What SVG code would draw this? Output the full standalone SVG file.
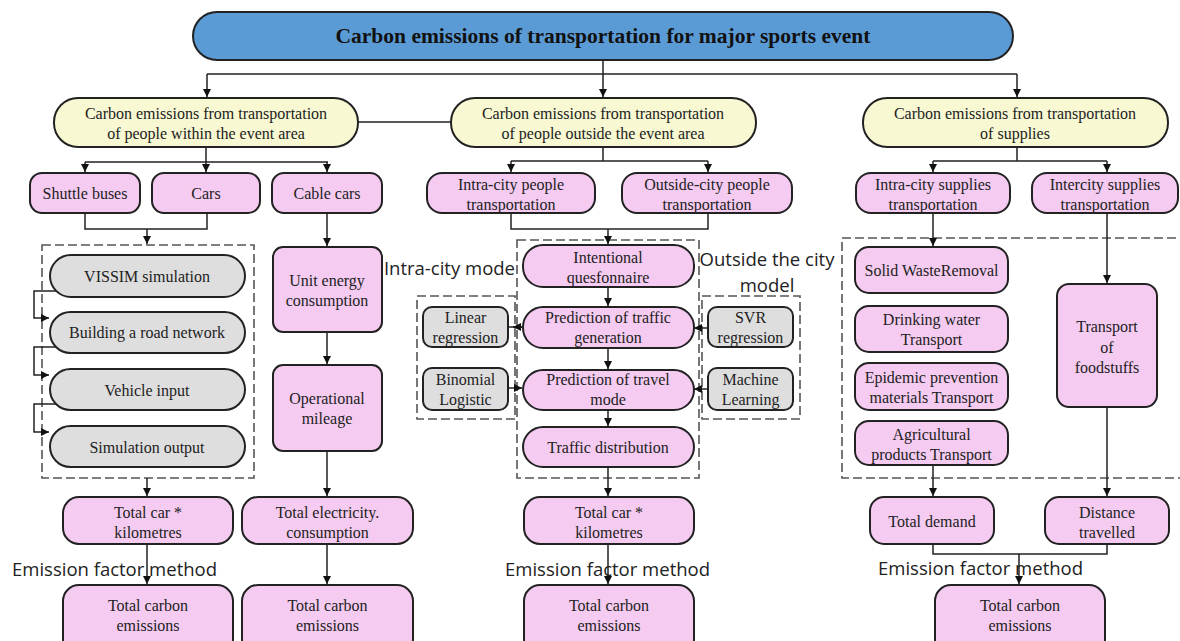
<svg xmlns="http://www.w3.org/2000/svg" width="1180" height="641" viewBox="0 0 1180 641">
<style>
.n{stroke:#222;stroke-width:2}
.b{fill:#5B9BD5}
.y{fill:#F8F8D2}
.p{fill:#F5CBF1}
.g{fill:#DEDEDE}
.d{fill:none;stroke:#555;stroke-width:1.6;stroke-dasharray:9 4}
.t{font-family:"Liberation Serif","Times New Roman",serif;font-size:16px;fill:#222;text-anchor:middle;dominant-baseline:central}
.tb{font-family:"Liberation Serif","Times New Roman",serif;font-size:21.5px;font-weight:bold;fill:#111;text-anchor:middle;dominant-baseline:central}
.s{font-family:"Open Sans","Noto Sans",sans-serif;font-size:18.5px;fill:#222;dominant-baseline:central}
.c{fill:none;stroke:#222;stroke-width:1.5}
</style>
<defs>
<marker id="a" viewBox="0 0 10 10" refX="10" refY="5" markerWidth="8" markerHeight="8" markerUnits="userSpaceOnUse" orient="auto"><path d="M0,0 L10,5 L0,10 z" fill="#111"/></marker>
</defs>
<rect width="1180" height="641" fill="#fff"/>

<g id="containers">
<rect class="d" x="42" y="245" width="212" height="233"/>
<rect class="d" x="517" y="240" width="182" height="238"/>
<rect class="d" x="417" y="296" width="98" height="123"/>
<rect class="d" x="702" y="296" width="98" height="123"/>
<rect class="d" x="842" y="238" width="345" height="240"/>
</g>

<g id="connectors">
<path class="c" d="M207,74 H1017"/>
<path class="c" d="M603,60 V97" marker-end="url(#a)"/>
<path class="c" d="M207,74 V97" marker-end="url(#a)"/>
<path class="c" d="M1017,74 V97" marker-end="url(#a)"/>
<path class="c" d="M358,122 H451"/>
<path class="c" d="M206,147 V162 M85,162 H328"/>
<path class="c" d="M85,162 V172" marker-end="url(#a)"/>
<path class="c" d="M206,162 V172" marker-end="url(#a)"/>
<path class="c" d="M327,162 V172" marker-end="url(#a)"/>
<path class="c" d="M603,147 V161 M511,161 H708"/>
<path class="c" d="M511,161 V172" marker-end="url(#a)"/>
<path class="c" d="M708,161 V172" marker-end="url(#a)"/>
<path class="c" d="M1017,146 V161 M933,161 H1107"/>
<path class="c" d="M933,161 V172" marker-end="url(#a)"/>
<path class="c" d="M1107,161 V172" marker-end="url(#a)"/>
<path class="c" d="M85,213 V229 H207 V213"/>
<path class="c" d="M147,229 V244" marker-end="url(#a)"/>
<path class="c" d="M327,213 V246" marker-end="url(#a)"/>
<path class="c" d="M327,332 V364" marker-end="url(#a)"/>
<path class="c" d="M327,451 V496" marker-end="url(#a)"/>
<path class="c" d="M57,291 H34 V318 H49" marker-end="url(#a)"/>
<path class="c" d="M57,347 H34 V375 H49" marker-end="url(#a)"/>
<path class="c" d="M57,404 H34 V432 H49" marker-end="url(#a)"/>
<path class="c" d="M147,478 V496" marker-end="url(#a)"/>
<path class="c" d="M147,544 V584" marker-end="url(#a)"/>
<path class="c" d="M327,544 V584" marker-end="url(#a)"/>
<path class="c" d="M511,213 V229 H708 V213"/>
<path class="c" d="M608,229 V244" marker-end="url(#a)"/>
<path class="c" d="M608,287 V306" marker-end="url(#a)"/>
<path class="c" d="M608,348 V369" marker-end="url(#a)"/>
<path class="c" d="M608,410 V426" marker-end="url(#a)"/>
<path class="c" d="M608,467 V496" marker-end="url(#a)"/>
<path class="c" d="M608,544 V584" marker-end="url(#a)"/>
<path class="c" d="M523,327 H509"/>
<path class="c" d="M523,327 H513" marker-end="url(#a)"/>
<path class="c" d="M508,388 H522" marker-end="url(#a)"/>
<path class="c" d="M708,328 H694" marker-end="url(#a)"/>
<path class="c" d="M708,389 H694" marker-end="url(#a)"/>
<path class="c" d="M933,213 V246" marker-end="url(#a)"/>
<path class="c" d="M1107,213 V283" marker-end="url(#a)"/>
<path class="c" d="M933,465 V496" marker-end="url(#a)"/>
<path class="c" d="M1107,407 V496" marker-end="url(#a)"/>
<path class="c" d="M933,544 V554 H1107 V544"/>
<path class="c" d="M1019,554 V584" marker-end="url(#a)"/>
</g>

<g id="top"><rect class="n b" x="193" y="12" width="820" height="48" rx="24"/><text class="tb" x="603" y="36">Carbon emissions of transportation for major sports event</text></g>

<g id="y1"><rect class="n y" x="54" y="98" width="304" height="49" rx="24"/><text class="t" x="206" y="113">Carbon emissions from transportation</text><text class="t" x="206" y="133">of people within the event area</text></g>
<g id="y2"><rect class="n y" x="451" y="98" width="305" height="49" rx="24"/><text class="t" x="603" y="113">Carbon emissions from transportation</text><text class="t" x="603" y="133">of people outside the event area</text></g>
<g id="y3"><rect class="n y" x="863" y="98" width="305" height="49" rx="24"/><text class="t" x="1015" y="113">Carbon emissions from transportation</text><text class="t" x="1015" y="133">of supplies</text></g>

<g id="shuttle"><rect class="n p" x="30" y="173" width="110" height="40" rx="12"/><text class="t" x="85" y="193">Shuttle buses</text></g>
<g id="cars"><rect class="n p" x="152" y="173" width="108" height="40" rx="12"/><text class="t" x="206" y="193">Cars</text></g>
<g id="cable"><rect class="n p" x="272" y="173" width="110" height="40" rx="12"/><text class="t" x="327" y="193">Cable cars</text></g>
<g id="intra-people"><rect class="n p" x="427" y="173" width="168" height="40" rx="15"/><text class="t" x="511" y="184">Intra-city people</text><text class="t" x="511" y="204">transportation</text></g>
<g id="outside-people"><rect class="n p" x="622" y="173" width="170" height="40" rx="15"/><text class="t" x="707" y="184">Outside-city people</text><text class="t" x="707" y="204">transportation</text></g>
<g id="intra-supplies"><rect class="n p" x="856" y="173" width="154" height="40" rx="15"/><text class="t" x="933" y="184">Intra-city supplies</text><text class="t" x="933" y="204">transportation</text></g>
<g id="inter-supplies"><rect class="n p" x="1032" y="173" width="146" height="40" rx="15"/><text class="t" x="1105" y="184">Intercity supplies</text><text class="t" x="1105" y="204">transportation</text></g>

<g id="vissim"><rect class="n g" x="50" y="255" width="195" height="42" rx="21"/><text class="t" x="147" y="276">VISSIM simulation</text></g>
<g id="road"><rect class="n g" x="50" y="312" width="195" height="41" rx="20.5"/><text class="t" x="147" y="332">Building a road network</text></g>
<g id="vehicle"><rect class="n g" x="50" y="369" width="195" height="41" rx="20.5"/><text class="t" x="147" y="390">Vehicle input</text></g>
<g id="simout"><rect class="n g" x="50" y="426" width="195" height="41" rx="20.5"/><text class="t" x="147" y="447">Simulation output</text></g>

<g id="unit"><rect class="n p" x="273" y="247" width="109" height="85" rx="10"/><text class="t" x="327" y="280">Unit energy</text><text class="t" x="327" y="300">consumption</text></g>
<g id="mileage"><rect class="n p" x="273" y="365" width="109" height="86" rx="10"/><text class="t" x="327" y="398">Operational</text><text class="t" x="327" y="418">mileage</text></g>

<g id="questionnaire"><rect class="n p" x="523" y="245" width="171" height="42" rx="20"/><text class="t" x="608" y="257">Intentional</text><text class="t" x="608" y="277">quesfonnaire</text></g>
<g id="generation"><rect class="n p" x="523" y="307" width="171" height="41" rx="20"/><text class="t" x="608" y="317">Prediction of traffic</text><text class="t" x="608" y="337">generation</text></g>
<g id="travelmode"><rect class="n p" x="523" y="370" width="171" height="40" rx="20"/><text class="t" x="608" y="379">Prediction of travel</text><text class="t" x="608" y="399">mode</text></g>
<g id="distribution"><rect class="n p" x="523" y="427" width="171" height="40" rx="20"/><text class="t" x="608" y="447">Traffic distribution</text></g>

<g id="linear"><rect class="n g" x="423" y="307" width="85" height="40" rx="9"/><text class="t" x="465.5" y="317">Linear</text><text class="t" x="465.5" y="337">regression</text></g>
<g id="binomial"><rect class="n g" x="423" y="368" width="85" height="42" rx="9"/><text class="t" x="465.5" y="379">Binomial</text><text class="t" x="465.5" y="399">Logistic</text></g>
<g id="svr"><rect class="n g" x="708" y="307" width="85" height="40" rx="9"/><text class="t" x="750.5" y="317">SVR</text><text class="t" x="750.5" y="337">regression</text></g>
<g id="ml"><rect class="n g" x="708" y="368" width="85" height="42" rx="9"/><text class="t" x="750.5" y="379">Machine</text><text class="t" x="750.5" y="399">Learning</text></g>

<g id="solid"><rect class="n p" x="855" y="247" width="153" height="46" rx="14"/><text class="t" x="931.5" y="270">Solid WasteRemoval</text></g>
<g id="water"><rect class="n p" x="855" y="306" width="153" height="46" rx="14"/><text class="t" x="931.5" y="319">Drinking water</text><text class="t" x="931.5" y="339">Transport</text></g>
<g id="epidemic"><rect class="n p" x="855" y="363" width="153" height="47" rx="14"/><text class="t" x="931.5" y="377">Epidemic prevention</text><text class="t" x="931.5" y="397">materials Transport</text></g>
<g id="agri"><rect class="n p" x="855" y="421" width="153" height="44" rx="14"/><text class="t" x="931.5" y="434">Agricultural</text><text class="t" x="931.5" y="454">products Transport</text></g>
<g id="food"><rect class="n p" x="1057" y="284" width="100" height="123" rx="12"/><text class="t" x="1107" y="326">Transport</text><text class="t" x="1107" y="347">of</text><text class="t" x="1107" y="367">foodstuffs</text></g>

<g id="totalcar-l"><rect class="n p" x="63" y="497" width="170" height="47" rx="16"/><text class="t" x="148" y="512">Total car *</text><text class="t" x="148" y="532">kilometres</text></g>
<g id="totalelec"><rect class="n p" x="242" y="497" width="171" height="47" rx="16"/><text class="t" x="327.5" y="512">Total electricity.</text><text class="t" x="327.5" y="532">consumption</text></g>
<g id="totalcar-m"><rect class="n p" x="524" y="497" width="170" height="47" rx="16"/><text class="t" x="609" y="512">Total car *</text><text class="t" x="609" y="532">kilometres</text></g>
<g id="demand"><rect class="n p" x="870" y="497" width="124" height="47" rx="14"/><text class="t" x="932" y="521">Total demand</text></g>
<g id="distance"><rect class="n p" x="1045" y="497" width="124" height="47" rx="14"/><text class="t" x="1107" y="512">Distance</text><text class="t" x="1107" y="532">travelled</text></g>

<g id="carbon-l"><rect class="n p" x="63" y="585" width="170" height="70" rx="16"/><text class="t" x="148" y="605">Total carbon</text><text class="t" x="148" y="625">emissions</text></g>
<g id="carbon-l2"><rect class="n p" x="242" y="585" width="171" height="70" rx="16"/><text class="t" x="327.5" y="605">Total carbon</text><text class="t" x="327.5" y="625">emissions</text></g>
<g id="carbon-m"><rect class="n p" x="524" y="585" width="170" height="70" rx="16"/><text class="t" x="609" y="605">Total carbon</text><text class="t" x="609" y="625">emissions</text></g>
<g id="carbon-r"><rect class="n p" x="935" y="585" width="170" height="70" rx="16"/><text class="t" x="1020" y="605">Total carbon</text><text class="t" x="1020" y="625">emissions</text></g>

<g id="labels">
<text class="s" x="515" y="267" text-anchor="end">Intra-city mode</text>
<text class="s" x="767" y="258" text-anchor="middle">Outside the city</text>
<text class="s" x="767" y="284" text-anchor="middle">model</text>
<text class="s" x="12" y="568">Emission factor method</text>
<text class="s" x="505" y="568">Emission factor method</text>
<text class="s" x="878" y="567">Emission factor method</text>
</g>
</svg>
